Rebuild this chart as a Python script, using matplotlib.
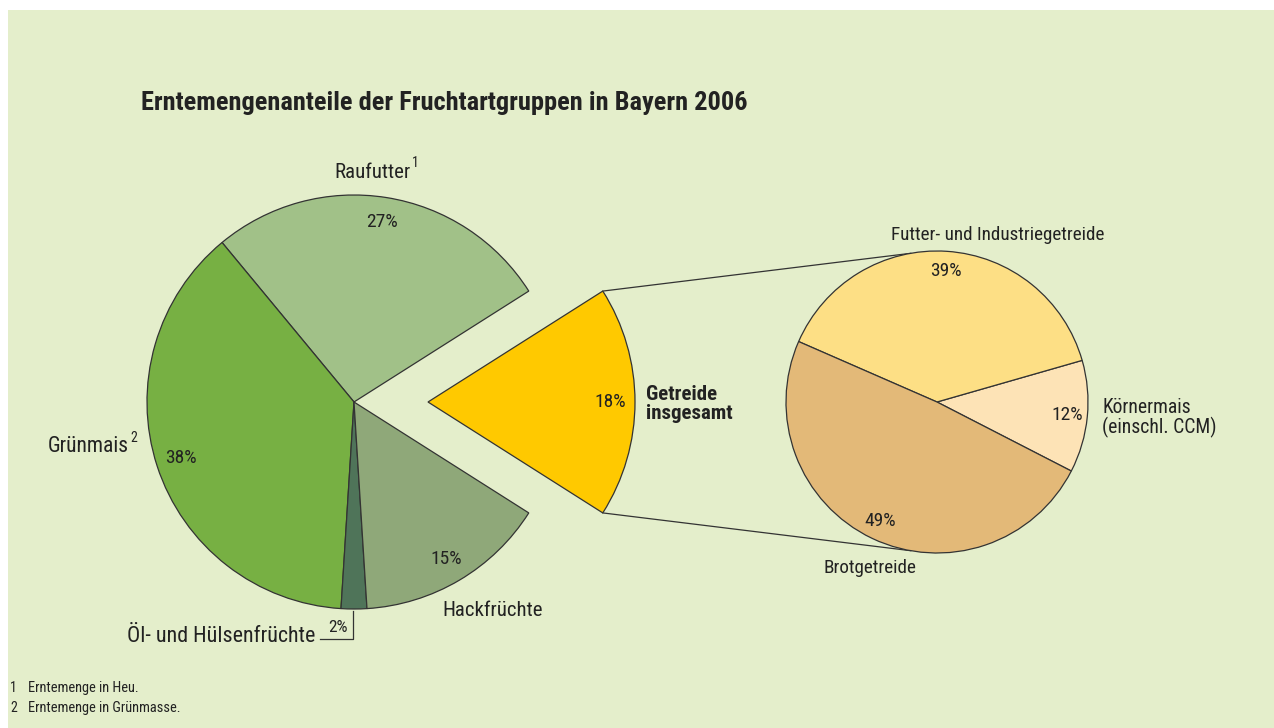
import numpy as np
import matplotlib
matplotlib.use("Agg")
import matplotlib.pyplot as plt
from matplotlib.patches import Rectangle

# ---- data ----
main_labels = ["Getreide\ninsgesamt", "Raufutter", "Grünmais", "Öl- und Hülsenfrüchte", "Hackfrüchte"]
main_values = [18, 27, 38, 2, 15]
main_colors = ["#FFC900", "#A1C188", "#77B043", "#4F7459", "#8FA879"]

sub_labels = ["Körnermais\n(einschl. CCM)", "Futter- und Industriegetreide", "Brotgetreide"]
sub_values = [12, 39, 49]
sub_colors = ["#FDE3B6", "#FDDF85", "#E3B978"]

title = "Erntemengenanteile der Fruchtartgruppen in Bayern 2006"
footnotes = ["Erntemenge in Heu.", "Erntemenge in Grünmasse."]

FONT = ["Liberation Sans Narrow", "Roboto Condensed", "DejaVu Sans"]
plt.rcParams["font.family"] = FONT

W, H = 1274, 728
fig = plt.figure(figsize=(W / 100, H / 100), dpi=100, facecolor="white")
ax = fig.add_axes([0, 0, 1, 1])

def P(x, y):
    return (x, H - y)

ax.add_patch(Rectangle(P(8, H), W, H - 10, facecolor="#E4EECB", edgecolor="none", zorder=0))

edge = "#333333"
TXT = "#222222"

# main pie
c1 = P(354, 402)
r1 = 207
explode_px = 74
start1 = -main_values[0] / 100 * 360 / 2
wedges1, _, autotexts1 = ax.pie(
    main_values, colors=main_colors, startangle=start1, counterclock=True,
    center=c1, radius=r1, explode=[explode_px, 0, 0, 0, 0],
    autopct="%d%%", pctdistance=0.88,
    wedgeprops=dict(edgecolor=edge, linewidth=0.9),
    textprops=dict(fontsize=14, color=TXT), frame=True)
autotexts1[3].set_visible(False)

# right pie
c2 = P(937, 402)
r2 = 151
start2 = -27.2
wedges2, _, autotexts2 = ax.pie(
    sub_values, colors=sub_colors, startangle=start2, counterclock=True,
    center=c2, radius=r2, autopct="%d%%", pctdistance=0.87,
    wedgeprops=dict(edgecolor=edge, linewidth=0.9),
    textprops=dict(fontsize=14, color=TXT), frame=True)

ax.set_xlim(0, W)
ax.set_ylim(0, H)
ax.set_aspect("equal")
ax.axis("off")

# connection lines from exploded Getreide wedge to right pie
g = wedges1[0]
gc = g.center
for ang_g, ang_s in [(g.theta2, 100), (g.theta1, 260)]:
    x0 = gc[0] + r1 * np.cos(np.radians(ang_g))
    y0 = gc[1] + r1 * np.sin(np.radians(ang_g))
    x1 = c2[0] + r2 * np.cos(np.radians(ang_s))
    y1 = c2[1] + r2 * np.sin(np.radians(ang_s))
    ax.plot([x0, x1], [y0, y1], color=edge, lw=0.9, zorder=0.5)

# labels
ax.text(*P(373, 172), "Raufutter", ha="center", va="center", fontsize=15, color=TXT)
ax.text(*P(412, 163), "1", ha="left", va="center", fontsize=10, color=TXT)
ax.text(*P(129, 447), "Grünmais", ha="right", va="center", fontsize=15.5, color=TXT)
ax.text(*P(130, 438), "2", ha="left", va="center", fontsize=10, color=TXT)
ax.text(*P(493, 610), "Hackfrüchte", ha="center", va="center", fontsize=15, color=TXT)
ax.text(*P(315, 636), "Öl- und Hülsenfrüchte", ha="right", va="center", fontsize=15.8, color=TXT)
ax.text(*P(338, 627), f"{main_values[3]}%", ha="center", va="center", fontsize=12.5, color=TXT)
ax.plot(*zip(P(353, 611), P(353, 639), P(320, 639)), color=edge, lw=0.9)
ax.text(*P(646, 404), "Getreide\ninsgesamt", ha="left", va="center", fontsize=15,
        fontweight="bold", color=TXT, linespacing=1.05)

ax.text(*P(998, 235), sub_labels[1], ha="center", va="center", fontsize=13.8, color=TXT)
ax.text(*P(1102, 418), sub_labels[0], ha="left", va="center", linespacing=1.05, fontsize=14.1, color=TXT)
ax.text(*P(870, 568), sub_labels[2], ha="center", va="center", fontsize=13.8, color=TXT)

ax.text(*P(141, 103), title, ha="left", va="center", fontsize=19, fontweight="bold", color=TXT)

for i, t in enumerate(footnotes):
    ax.text(*P(10, 688 + i * 20), str(i + 1), ha="left", va="center", fontsize=10, color=TXT)
    ax.text(*P(28, 688 + i * 20), t, ha="left", va="center", fontsize=10.4, color=TXT)

fig.savefig("out.png", dpi=100, facecolor="white")
